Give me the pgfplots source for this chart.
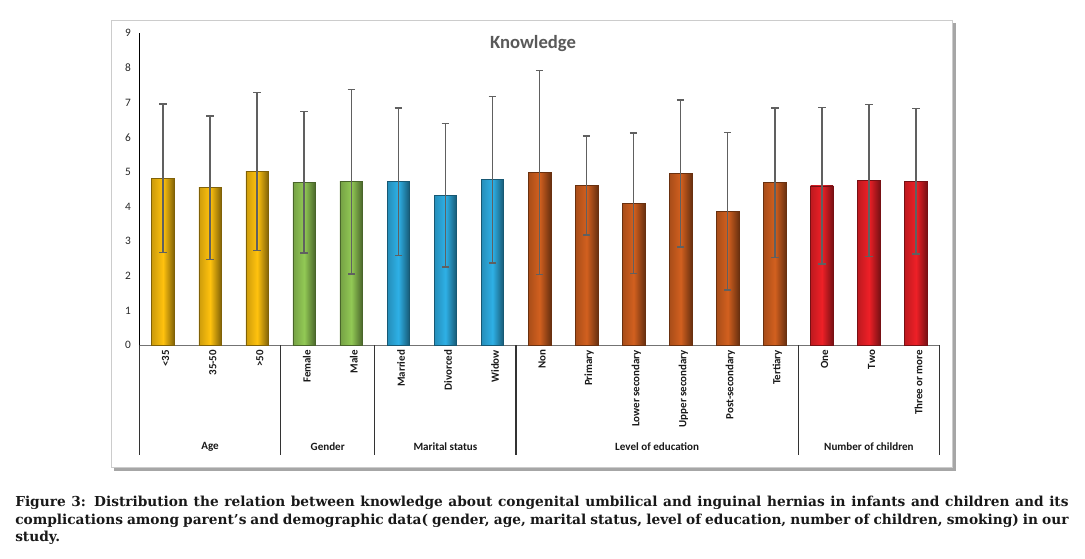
\documentclass[border=0pt]{standalone}
\usepackage{fontspec}
\setmainfont{Carlito}
\newfontfamily\capfont{DejaVu Serif}
\usepackage{pgfplots}
\pgfplotsset{compat=1.18}
\definecolor{cyel}{HTML}{FFC20E}
\definecolor{cgrn}{HTML}{92C955}
\definecolor{cblu}{HTML}{2EB0E6}
\definecolor{corg}{HTML}{D2601F}
\definecolor{cred}{HTML}{EE2027}
\definecolor{tgray}{HTML}{595959}
\definecolor{egray}{HTML}{606060}
\newcommand\onebar[3]{\addplot[ybar, bar width=0.48, bar shift=0pt, draw=#1!50!black, line width=0.4pt, left color=#1!80!black, right color=#1!50!black, middle color=#1] coordinates {(#2,#3)};}
\begin{document}
\begin{tikzpicture}
\begin{scope}[x=0.75pt,y=-0.75pt]
\path[use as bounding box] (0,0) rectangle (1085,558);
\fill[white] (0,0) rectangle (1085,558);
\fill[black!35] (114,23) rectangle (956,471);
\filldraw[draw=black!20, fill=white] (111,20) rectangle (952,467);
\node[font=\bfseries\fontsize{14}{16}\selectfont, text=tgray] at (533,44) {Knowledge};
\node[anchor=north west, inner sep=0pt, text width=790pt, align=justify,
      font=\capfont\bfseries\fontsize{10.3}{13.1}\selectfont, text=black!90]
  at (15,496) {Figure 3: Distribution the relation between knowledge about congenital umbilical and inguinal hernias in infants and children and its\linebreak complications among parent’s and demographic data( gender, age, marital status, level of education, number of children, smoking) in our\linebreak study.};
\end{scope}
\begin{axis}[at={(104.625pt,-258.975pt)}, anchor=south west,
  width=600pt, height=234pt, scale only axis,
  xmin=-0.5, xmax=16.5, ymin=0, ymax=9,
  ytick={0,...,9}, xtick={0,...,16},
  xticklabels={<35,35-50,>50,Female,Male,Married,Divorced,Widow,Non,Primary,Lower secondary,Upper secondary,Post-secondary,Tertiary,One,Two,Three or more},
  axis x line*=bottom, axis y line*=left,
  axis line style={-},
  x axis line style={black!55},
  y axis line style={black},
  major tick length=0pt,
  /pgf/number format/assume math mode=true,
  yticklabel style={font=\fontsize{8.5}{9}\selectfont, text=black!85, xshift=-3pt},
  xticklabel style={rotate=90, anchor=east, font=\bfseries\fontsize{8.2}{9}\selectfont, text=black!90, yshift=-2pt},
  clip=false,
]
\onebar{cyel}{0}{4.82}
\onebar{cyel}{1}{4.55}
\onebar{cyel}{2}{5.02}
\onebar{cgrn}{3}{4.70}
\onebar{cgrn}{4}{4.72}
\onebar{cblu}{5}{4.72}
\onebar{cblu}{6}{4.33}
\onebar{cblu}{7}{4.78}
\onebar{corg}{8}{4.98}
\onebar{corg}{9}{4.61}
\onebar{corg}{10}{4.10}
\onebar{corg}{11}{4.96}
\onebar{corg}{12}{3.87}
\onebar{corg}{13}{4.69}
\onebar{cred}{14}{4.60}
\onebar{cred}{15}{4.75}
\onebar{cred}{16}{4.73}
\addplot[draw=none, mark=none,
  error bars/.cd, y dir=both, y explicit,
  error bar style={draw=egray, line width=1.1pt},
  error mark options={rotate=90, draw=egray, line width=1.1pt, mark size=2.8pt}]
  coordinates {
  (0,4.82) +- (0,2.14) (1,4.55) +- (0,2.07) (2,5.02) +- (0,2.28)
  (3,4.70) +- (0,2.04) (4,4.72) +- (0,2.66)
  (5,4.72) +- (0,2.13) (6,4.33) +- (0,2.07) (7,4.78) +- (0,2.40)
  (8,4.98) +- (0,2.94) (9,4.61) +- (0,1.43) (10,4.10) +- (0,2.03)
  (11,4.96) +- (0,2.12) (12,3.87) +- (0,2.27) (13,4.69) +- (0,2.15)
  (14,4.60) +- (0,2.26) (15,4.75) +- (0,2.19) (16,4.73) +- (0,2.10)};
\foreach \s in {-0.5,2.5,4.5,7.5,13.5,16.5} {
  \edef\tmp{\noexpand\draw[black!80, line width=0.8pt] (axis cs:\s,0) -- ++(0pt,-82.3pt);}\tmp
}
\foreach \c/\t in {1/Age,3.5/Gender,6/Marital status,10.5/Level of education,15/Number of children} {
  \edef\tmp{\noexpand\node[font=\noexpand\bfseries\noexpand\fontsize{8.3}{9}\noexpand\selectfont, text=black!90] at (axis cs:\c,0) [yshift=-76.3pt] {\t};}\tmp
}
\end{axis}
\end{tikzpicture}
\end{document}
